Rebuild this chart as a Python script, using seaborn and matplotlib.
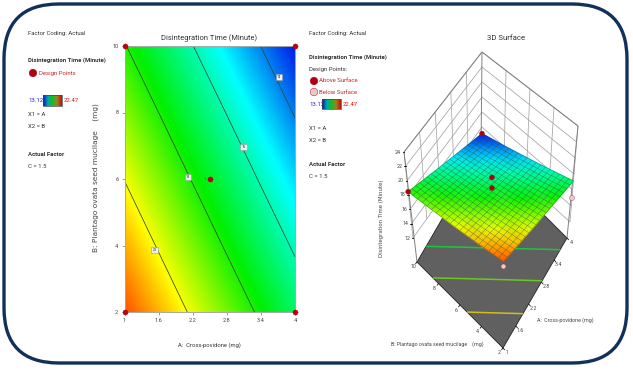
import numpy as np, pandas as pd
import matplotlib
matplotlib.use("Agg")
import matplotlib.pyplot as plt
import seaborn as sns
from matplotlib.colors import LinearSegmentedColormap, Normalize
from matplotlib.patches import FancyBboxPatch, Polygon
from matplotlib.collections import LineCollection
import contourpy

# ---------- data ----------
a_ticks = [1, 1.6, 2.2, 2.8, 3.4, 4]
b_ticks = [2, 4, 6, 8, 10]
z_ticks = [12, 14, 16, 18, 20, 22, 24]
# response, rows follow b_ticks, columns follow a_ticks
time_b2  = [22.47, 21.40, 20.33, 19.26, 18.20, 17.13]
time_b4  = [21.47, 20.40, 19.33, 18.26, 17.20, 16.13]
time_b6  = [20.47, 19.40, 18.33, 17.26, 16.19, 15.13]
time_b8  = [19.46, 18.40, 17.33, 16.26, 15.19, 14.12]
time_b10 = [18.46, 17.39, 16.32, 15.26, 14.19, 13.12]
contour_levels = [14.2, 16.3, 18.4, 20.5]
contour_names = ["14", "16", "18", "20"]
label_a = [3.72, 3.09, 2.12, 1.53]
label_b = [9.07, 6.96, 6.06, 3.87]
floor_levels = [15.9, 17.7, 19.2, 20.8]
design_a = [1, 4, 1, 4, 2.5]
design_b = [2, 2, 10, 10, 6]
d3_a = [4, 1, 2.5, 2.5, 4, 1]
d3_b = [10, 10, 6, 6, 2, 2]
d3_z = [13.12, 18.46, 19.7, 18.3, 15.0, 21.8]
d3_kind = ["above", "above", "above", "above", "below", "below"]
low, high = 13.12, 22.47

W, H = 633, 371
sns.set_theme(style="white")
plt.rcParams["font.family"] = ["Roboto", "DejaVu Sans"]
fig = plt.figure(figsize=(W / 100, H / 100), dpi=100, facecolor="white")
cmap = LinearSegmentedColormap.from_list(
    "de", [(0, "#0018e8"), (0.255, "#00ffff"), (0.54, "#00f000"), (0.80, "#ffff00"), (1, "#ff5000")])
bar_cmap = LinearSegmentedColormap.from_list("bar", ["#0a10c0", "#00a8b0", "#10c020", "#a08020", "#c01010"])
norm = Normalize(low, high)
Z = np.array([time_b2, time_b4, time_b6, time_b8, time_b10])
A, B = np.array(a_ticks), np.array(b_ticks)

# page layer in pixels
pg = fig.add_axes([0, 0, 1, 1], zorder=0)
pg.set_xlim(0, W); pg.set_ylim(H, 0); pg.axis("off")
pg.add_patch(FancyBboxPatch((4 + 55, 4 + 55), 623 - 110, 359 - 110,
             boxstyle="round,pad=55,rounding_size=55", fc="white", ec="#12305c", lw=2.4))

def T(x, y, s, size=4.3, color="#333333", weight="normal", **kw):
    kw.setdefault("ha", "left"); kw.setdefault("va", "center")
    pg.text(x, y, s, fontsize=size, color=color, fontweight=weight, **kw)

def bar(x0, x1, y0, y1):
    pg.imshow(np.linspace(0, 1, 64)[None, :], cmap=bar_cmap, extent=[x0, x1, y1, y0], aspect="auto", zorder=3)
    pg.add_patch(plt.Rectangle((x0, y0), x1 - x0, y1 - y0, fill=False, ec="#444444", lw=0.5, zorder=4))

# left legend
T(28, 34, "Factor Coding: Actual")
T(28, 60, "Disintegration Time (Minute)", weight="bold")
T(39, 73, "Design Points", color="#c62828")
bar(43, 62, 95, 106)
T(28, 100.5, "13.12", color="#2222ee"); T(64, 100.5, "22.47", color="#ee1111")
T(28, 114, "X1 = A"); T(28, 127, "X2 = B")
T(28, 154, "Actual Factor", weight="bold"); T(28, 167, "C = 1.5")
# middle legend
T(309, 33, "Factor Coding: Actual")
T(309, 57, "Disintegration Time (Minute)", weight="bold")
T(309, 69, "Design Points:")
T(319, 81, "Above Surface", color="#c62828"); T(319, 92, "Below Surface", color="#c62828")
bar(322, 341, 99, 109)
T(309, 104, "13.12", color="#2222ee"); T(343, 104, "22.47", color="#ee1111")
T(309, 128, "X1 = A"); T(309, 140, "X2 = B")
T(309, 164, "Actual Factor", weight="bold"); T(309, 176, "C = 1.5")
leg = pd.DataFrame({"x": [33, 314, 314], "y": [73, 81, 92], "k": ["a", "a", "b"]})
sns.scatterplot(data=leg, x="x", y="y", hue="k", palette={"a": "#b00010", "b": "#f4c4c4"}, s=30,
                edgecolor="#99000a", linewidth=0.3, legend=False, ax=pg, zorder=5)
pg.set_xlabel(""); pg.set_ylabel("")
pg.set_xlim(0, W); pg.set_ylim(H, 0)

# ---------- 2D contour ----------
x0, x1, y0, y1 = 124.5, 295, 46, 312
ax = fig.add_axes([x0 / W, 1 - y1 / H, (x1 - x0) / W, (y1 - y0) / H], zorder=2)
ax.imshow(Z, origin="lower", cmap=cmap, norm=norm, interpolation="bilinear", aspect="auto",
          extent=[A[0] - 0.3, A[-1] + 0.3, B[0] - 1, B[-1] + 1])
ax.contour(A, B, Z, levels=contour_levels, colors="#2a4a2a", linewidths=0.55)
ax.set_xlim(1, 4); ax.set_ylim(2, 10)
for s in ax.spines.values():
    s.set_color("#a8a8a8"); s.set_linewidth(0.7)
ax.set_xticks(a_ticks); ax.set_xticklabels([str(v) for v in a_ticks])
ax.set_yticks(b_ticks)
ax.tick_params(length=2.5, width=0.4, labelsize=4.0, pad=2, color="#555555", labelcolor="#444444",
               bottom=True, left=True)
for x, y, s in zip(label_a, label_b, contour_names):
    ax.text(x, y, s, fontsize=2.6, color="#222222", ha="center", va="center",
            bbox=dict(boxstyle="square,pad=0.35", fc="#eeeeee", ec="#999999", lw=0.4), zorder=5)
pts = pd.DataFrame({"A": design_a, "B": design_b})
sns.scatterplot(data=pts, x="A", y="B", color="#c00010", s=14, edgecolor="#880000", linewidth=0.2,
                clip_on=False, zorder=6, ax=ax)
ax.set_xlabel(""); ax.set_ylabel("")
ax.text(2.43, 6, "1", fontsize=3, color="#444444", ha="right", va="center", zorder=6)
T(209, 38.5, "Disintegration Time (Minute)", size=5.4, ha="center")
T(209, 345, "A:  Cross-povidone (mg)", size=4.2, ha="center")
pg.text(96, 178, "B: Plantago ovata seed mucilage    (mg)", rotation=90, fontsize=5.3, color="#444444",
        family="DejaVu Sans", ha="center", va="center")

# ---------- 3D surface, projected on a page-level axes ----------
p3 = fig.add_axes([0, 0, 1, 1], zorder=3)
p3.set_xlim(0, W); p3.set_ylim(H, 0); p3.axis("off"); p3.patch.set_alpha(0)
# box corners: (A1,B2) front, (A4,B2) right, (A1,B10) left, (A4,B10) back
top = dict(f=(503.5, 250), r=(578, 126), l=(404, 152), b=(482, 52))
low12 = dict(f=(503.5, 340), r=(570, 222), l=(413, 238), b=(482, 142))
floor = dict(f=(503, 348), r=(567, 238), l=(417, 262), b=(481, 152))

def bil(c, u, v):
    u, v = np.asarray(u, float), np.asarray(v, float)
    return [(1 - u) * (1 - v) * c["f"][i] + u * (1 - v) * c["r"][i] + (1 - u) * v * c["l"][i] + u * v * c["b"][i] for i in (0, 1)]

def uv(a, b):
    return (np.asarray(a, float) - 1) / 3, (np.asarray(b, float) - 2) / 8

def proj(a, b, z):
    u, v = uv(a, b)
    tx, ty = bil(top, u, v); lx, ly = bil(low12, u, v)
    w = (np.asarray(z, float) - 12) / 12
    return lx + (tx - lx) * w, ly + (ty - ly) * w

def fl(a, b):
    return bil(floor, *uv(a, b))

# floor
fc = [floor[k] for k in "frbl"]
p3.add_patch(Polygon(fc, closed=True, fc="#606060", ec="#222222", lw=0.6, zorder=1))
gen = contourpy.contour_generator(x=A, y=B, z=Z)
for lev in floor_levels:
    for ln in gen.lines(lev):
        fx, fy = fl(ln[:, 0], ln[:, 1])
        p3.plot(fx, fy, color=cmap(norm(lev)), lw=1.1, alpha=0.7, zorder=2, solid_capstyle="butt")

# walls
wall = []
for zv in z_ticks:
    wall.append(np.column_stack(proj([1, 4, 4], [10, 10, 2], [zv] * 3)))
for bv in b_ticks[:-1]:
    wall.append(np.column_stack(proj([4, 4], [bv, bv], [12, 24])))
for av in a_ticks[:-1]:
    wall.append(np.column_stack(proj([av, av], [10, 10], [12, 24])))
p3.add_collection(LineCollection(wall, colors="#a4a4a4", linewidths=0.55, zorder=1.5))
edges = []
for k in "lbr":
    edges.append([top[k], floor[k]])
edges.append([top["l"], top["b"]]); edges.append([top["b"], top["r"]])
p3.add_collection(LineCollection(edges, colors="#808080", linewidths=0.7, zorder=1.6))

# surface
AA, BB = np.meshgrid(A, B)
SX, SY = proj(AA, BB, Z)
p3.pcolormesh(SX, SY, Z, cmap=cmap, norm=norm, shading="gouraud", zorder=3)
n_mesh = 21
t = np.linspace(0, 1, n_mesh)
def surf(u, v):
    a, b = 1 + 3 * np.asarray(u), 2 + 8 * np.asarray(v)
    zz = (1 - u) * (1 - v) * Z[0, 0] + u * (1 - v) * Z[0, -1] + (1 - u) * v * Z[-1, 0] + u * v * Z[-1, -1]
    return np.column_stack(proj(a, b, zz))
mesh = [surf(np.full(n_mesh, s), t) for s in t] + [surf(t, np.full(n_mesh, s)) for s in t]
p3.add_collection(LineCollection(mesh, colors="#2c4a38", linewidths=0.3, alpha=0.7, zorder=4))

# design points
dx, dy = proj(d3_a, d3_b, d3_z)
d3 = pd.DataFrame({"x": dx, "y": dy, "k": d3_kind})
sns.scatterplot(data=d3, x="x", y="y", hue="k", palette={"above": "#b00010", "below": "#f6c8c8"}, s=13,
                edgecolor="#882222", linewidth=0.25, legend=False, ax=p3, zorder=6)
p3.set_xlabel(""); p3.set_ylabel("")
p3.set_xlim(0, W); p3.set_ylim(H, 0)

# floor ticks and labels
def tick_seq(fixed_a=None, fixed_b=None, vals=(), dx=0, dy=0):
    for v in vals:
        a = fixed_a if fixed_a is not None else v
        b = fixed_b if fixed_b is not None else v
        x, y = fl(a, b)
        p3.plot([x, x + dx * 0.35], [y, y + dy * 0.35], color="#111111", lw=0.6, zorder=2.5)
        p3.text(x + dx, y + dy, str(v), fontsize=3.8, color="#444444", ha="center", va="center")
tick_seq(fixed_a=1, vals=b_ticks, dx=-4, dy=5)
tick_seq(fixed_b=2, vals=a_ticks, dx=4.5, dy=5)
for zv in z_ticks:
    x, y = proj(1, 10, zv)
    p3.plot([x, x - 1.5], [y, y], color="#111111", lw=0.7, zorder=5)
    p3.text(x - 3, y, str(zv), fontsize=3.8, color="#444444", ha="right", va="center")
p3.text(382, 218, "Disintegration Time (Minute)", rotation=90, fontsize=3.9, color="#444444",
        family="DejaVu Sans", ha="center", va="center")
p3.text(437, 344, "B: Plantago ovata seed mucilage    (mg)", fontsize=3.8, color="#444444", ha="center", va="center")
p3.text(565, 320.5, "A:  Cross-povidone (mg)", fontsize=3.8, color="#444444", ha="center", va="center")
p3.text(506, 38.5, "3D Surface", fontsize=5.6, color="#333333", ha="center", va="center")

fig.savefig("out.png", dpi=100)
